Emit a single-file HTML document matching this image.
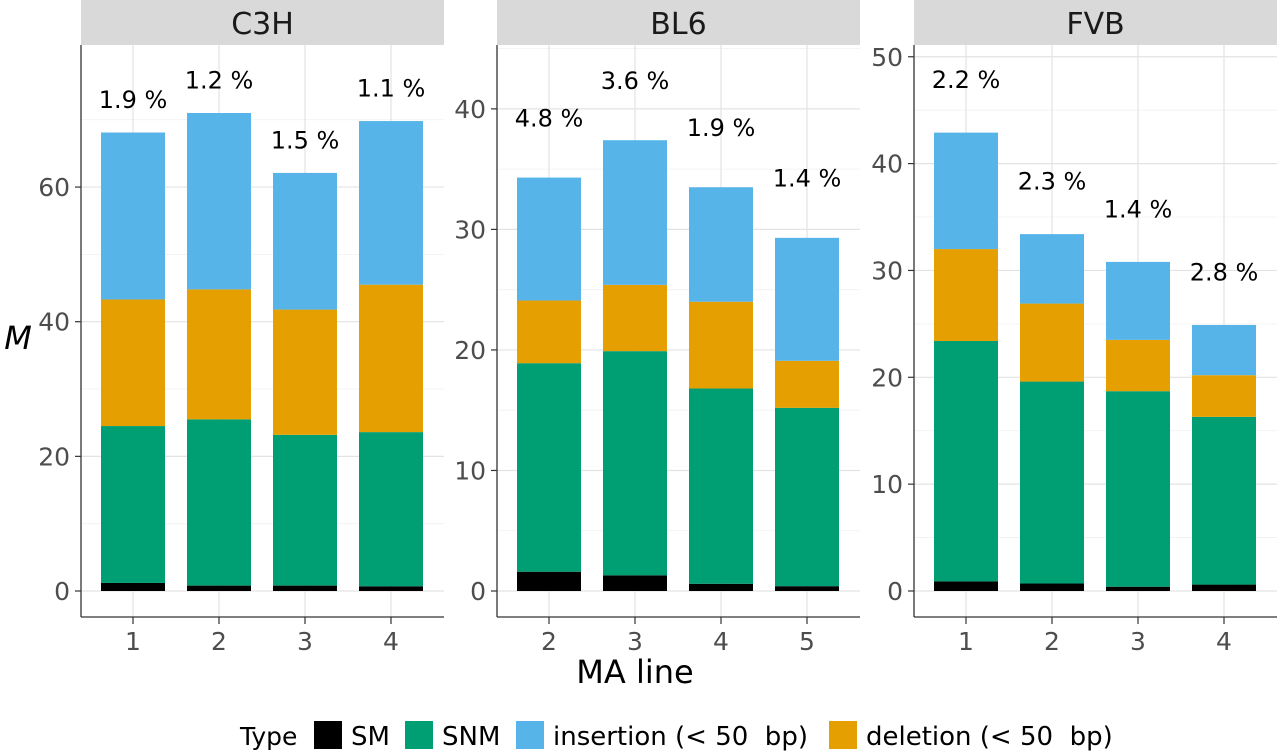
<!DOCTYPE html>
<html><head><meta charset="utf-8"><style>
body{margin:0;background:#fff;}
svg{display:block;font-family:"DejaVu Sans","Liberation Sans",sans-serif;}
</style></head><body>
<svg id="chart" width="1280" height="753"></svg>
<script>
const panelNames = ["C3H","BL6","FVB"];
const lineLabels = [["1","2","3","4"],["2","3","4","5"],["1","2","3","4"]];
const smVals = [[1.2,0.8,0.8,0.7],[1.6,1.3,0.6,0.4],[0.9,0.7,0.4,0.6]];
const snmVals = [[23.3,24.7,22.4,22.9],[17.3,18.6,16.2,14.8],[22.5,18.9,18.3,15.7]];
const delVals = [[18.8,19.3,18.6,21.9],[5.2,5.5,7.2,3.9],[8.6,7.3,4.8,3.9]];
const insVals = [[24.8,26.2,20.3,24.3],[10.2,12.0,9.5,10.2],[10.9,6.5,7.3,4.7]];
const pctLabels = [["1.9 %","1.2 %","1.5 %","1.1 %"],["4.8 %","3.6 %","1.9 %","1.4 %"],["2.2 %","2.3 %","1.4 %","2.8 %"]];
const yTicks = [[0,20,40,60],[0,10,20,30,40],[0,10,20,30,40,50]];
const yMax = [81.1,45.3,51.1];
const typeNames = ["SM","SNM","deletion (< 50  bp)","insertion (< 50  bp)"];
const colors = ["#000000","#009E73","#E69F00","#56B4E9"];

const NS="http://www.w3.org/2000/svg";
const svg=document.getElementById('chart');
function mk(tag,attrs,parent){const e=document.createElementNS(NS,tag);for(const k in attrs)e.setAttribute(k,attrs[k]);(parent||svg).appendChild(e);return e;}
const panelX=[81,497,914], panelW=363, plotTop=45, plotBot=617, zeroY=591;
panelNames.forEach((name,p)=>{
  const g=mk('g',{});
  
  
  const x0=panelX[p];
  const y=v=>zeroY-(v/yMax[p])*(zeroY-plotTop);
  const xc=i=>x0+52+i*86;
  for(let k=0;k<yTicks[p].length;k++){
    const step=yTicks[p][1]-yTicks[p][0];
    const mv=yTicks[p][k]+step/2;
    if(y(mv)>plotTop) mk('line',{x1:x0,x2:x0+panelW,y1:y(mv),y2:y(mv),stroke:'#f0f0f0','stroke-width':0.8},g);
  }
  yTicks[p].forEach(t=>{
    mk('line',{x1:x0,x2:x0+panelW,y1:y(t),y2:y(t),stroke:'#e3e3e3','stroke-width':1.2},g);
    const tl=mk('text',{x:x0-11,y:y(t)+9,'text-anchor':'end','font-size':25,fill:'#4d4d4d'},g);tl.textContent=t;
    
    
    mk('line',{x1:x0-6,x2:x0,y1:y(t),y2:y(t),stroke:'#333','stroke-width':1.2},g);
  });
  lineLabels[p].forEach((l,i)=>{
    mk('line',{x1:xc(i),x2:xc(i),y1:plotTop,y2:plotBot,stroke:'#e3e3e3','stroke-width':1.2},g);
  });
  lineLabels[p].forEach((l,i)=>{
    let base=0;
    const vals=[smVals[p][i],snmVals[p][i],delVals[p][i],insVals[p][i]];
    vals.forEach((v,s)=>{
      const r=mk('rect',{x:xc(i)-32,width:64,y:y(base+v),height:y(base)-y(base+v),fill:colors[s]},g);
      
      
      base+=v;
    });
    const pt=mk('text',{x:xc(i),y:y(base+5)+9,'text-anchor':'middle','font-size':24,fill:'#000'},g);pt.textContent=pctLabels[p][i];
    
    
    mk('line',{x1:xc(i),x2:xc(i),y1:plotBot,y2:plotBot+7,stroke:'#333','stroke-width':1.2},g);
    const xl=mk('text',{x:xc(i),y:plotBot+33,'text-anchor':'middle','font-size':25,fill:'#4d4d4d'},g);xl.textContent=l;
    
    
  });
  mk('line',{x1:x0,x2:x0,y1:plotTop,y2:plotBot,stroke:'#333','stroke-width':1.3},g);
  mk('line',{x1:x0,x2:x0+panelW,y1:plotBot,y2:plotBot,stroke:'#333','stroke-width':1.3},g);
  const sr=mk('rect',{x:x0,y:0,width:panelW,height:plotTop,fill:'#d9d9d9'},g);
  
  
  const st=mk('text',{x:x0+panelW/2,y:34,'text-anchor':'middle','font-size':30,fill:'#1a1a1a'},g);st.textContent=name;
  
  
});
const xt=mk('text',{x:635,y:683,'text-anchor':'middle','font-size':32,fill:'#000'});xt.textContent='MA line';


const yt=mk('text',{x:18,y:349,'text-anchor':'middle','font-size':32,'font-style':'italic',fill:'#000'});yt.textContent='M';


const lg=mk('g',{});


const lt=mk('text',{x:240,y:745,'font-size':25,fill:'#000'},lg);lt.textContent='Type';
const legOrder=[0,1,3,2];
const legX=[314,405,516,829];
legOrder.forEach((s,k)=>{
  const e=mk('g',{},lg);
  
  
  mk('rect',{x:legX[k],y:721,width:28,height:28,fill:colors[s]},e);
  const t=mk('text',{x:legX[k]+37,y:745,'font-size':26,fill:'#000','xml:space':'preserve'},e);t.textContent=typeNames[s];
  t.style.whiteSpace='pre';
});
</script>
</body></html>
